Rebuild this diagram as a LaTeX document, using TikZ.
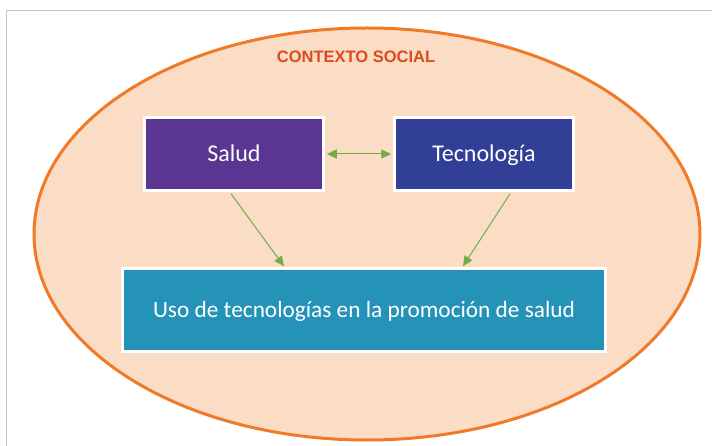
\documentclass[tikz,border=0pt]{standalone}
\usepackage{fontspec}
\setmainfont{Carlito}
\newfontfamily\titlefont{Liberation Sans}
\usetikzlibrary{arrows.meta}
\definecolor{framegray}{HTML}{C4C4C4}
\definecolor{ellfill}{HTML}{FBDCC5}
\definecolor{elldraw}{HTML}{F07A28}
\definecolor{titlecol}{HTML}{DC4A1E}
\definecolor{saludcol}{HTML}{5B3592}
\definecolor{teccol}{HTML}{313F97}
\definecolor{usocol}{HTML}{2592B7}
\definecolor{arrowgreen}{HTML}{70AD47}
\tikzset{
  box/.style={draw=white, line width=2.5pt, text=white, inner sep=0pt, align=center, text height=20pt, text depth=5.5pt},
  tip/.tip={Triangle[length=10pt,width=9pt]},
  link/.style={draw=arrowgreen, line width=1pt, -tip},
  dlink/.style={draw=arrowgreen, line width=1pt, tip-tip}
}
\begin{document}
\begin{tikzpicture}[x=1pt,y=-1pt]
\useasboundingbox (0,0) rectangle (712,446);
\fill[white] (0,0) rectangle (712,446);
\draw[framegray, line width=1.5pt] (6.5,446) -- (6.5,10.5) -- (712,10.5);
\path[fill=ellfill, draw=elldraw, line width=3pt] (367,234) ellipse [x radius=333, y radius=206];
\node[font=\titlefont\bfseries\fontsize{16.5}{18}\selectfont, text=titlecol] (title) at (356,57) {CONTEXTO SOCIAL};
\node[box, fill=saludcol, minimum width=179pt, minimum height=73pt, font=\fontsize{24}{28}\selectfont] (salud) at (234,154) {Salud};
\node[box, fill=teccol, minimum width=179pt, minimum height=73pt, font=\fontsize{24}{28}\selectfont] (tec) at (484,154) {Tecnología};
\node[box, fill=usocol, minimum width=483pt, minimum height=83pt, font=\fontsize{23.3}{27}\selectfont] (uso) at (364,310) {Uso de tecnologías en la promoción de salud};
\coordinate (se) at ([xshift=2pt]salud.east);
\coordinate (tw) at ([xshift=-2pt]tec.west);
\draw[dlink] (se) -- (tw);
\coordinate (sb) at ([xshift=-3pt,yshift=-2pt]salud.south);
\coordinate (tb) at ([xshift=26pt,yshift=-2pt]tec.south);
\coordinate (u1) at ([xshift=-80pt,yshift=1pt]uso.north);
\coordinate (u2) at ([xshift=99pt,yshift=1pt]uso.north);
\draw[link] (sb) -- (u1);
\draw[link] (tb) -- (u2);
\end{tikzpicture}
\end{document}
